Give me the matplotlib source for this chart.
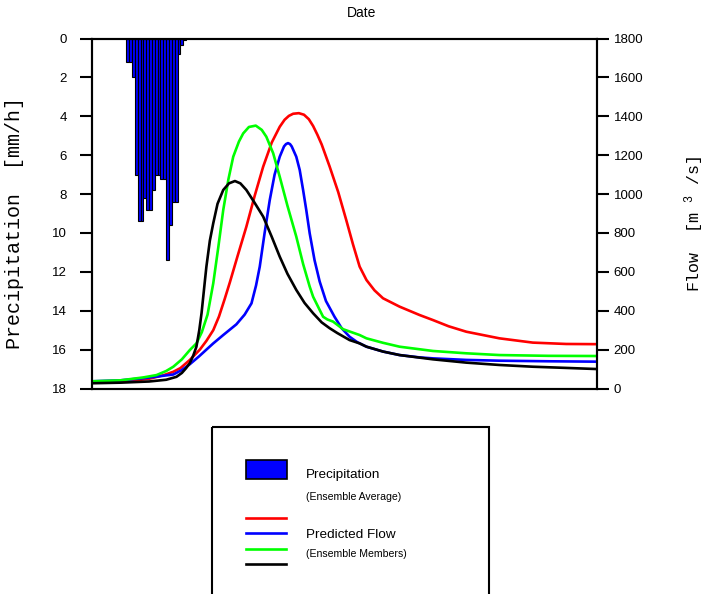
import numpy as np
import matplotlib
matplotlib.use('Agg')
import matplotlib.pyplot as plt
from matplotlib.patches import Rectangle
from matplotlib.lines import Line2D

plt.rcParams['font.family'] = ['Liberation Sans', 'DejaVu Sans']
plt.rcParams['mathtext.fontset'] = 'custom'
plt.rcParams['mathtext.rm'] = 'Liberation Mono'
plt.rcParams['mathtext.it'] = 'Liberation Mono'
plt.rcParams['mathtext.bf'] = 'Liberation Mono'

# =========================================================
# data (hours from start, mm/h, m3/s)
# =========================================================
precip_hours = list(range(12, 33))
precip_mm = [1.2, 1.2, 2.0, 7.0, 9.4, 9.4, 8.2, 8.8, 8.8, 7.8, 7.0,
             7.0, 7.2, 7.2, 11.4, 9.6, 8.4, 8.4, 0.8, 0.35, 0.1]

red_t = [0, 10, 20, 25, 28.5, 31, 34.3, 37.8, 40.1, 42.5, 44.5, 46.5, 48.3, 51,
         54.1, 57, 60.0, 63, 65.8, 67.5, 69, 70.5, 72.5, 74.3, 76, 77.5, 79,
         80.5, 83.3, 86.3, 89.1, 91.5, 93.8, 96.2, 99, 102.0, 107.8, 114.8,
         119.5, 125, 131.2, 142.8, 154.5, 166.2, 177]
red_q = [30, 33, 50, 68, 86, 105, 147, 200, 245, 300, 370, 460, 545, 680,
         832, 990, 1141, 1265, 1346, 1382, 1402, 1413, 1416, 1408, 1385, 1350, 1305,
         1255, 1141, 1010, 867, 740, 627, 558, 505, 464, 421, 378,
         352, 320, 292, 258, 236, 229, 228]

blue_t = [0, 10, 18, 22.6, 28.5, 31.5, 34.3, 37.5, 40.1, 42.5, 46.0, 50.6, 53.5,
          55.9, 57.5, 58.8, 60.5, 62.3, 64, 65.8, 67.3, 68, 68.7, 69.4, 70, 71.6,
          72.8, 74, 75.1, 76.3, 78, 79.8, 82, 85, 87.5, 90.3, 93, 96.2, 102,
          107.8, 114.8, 119.5, 131.2, 142.8, 160, 177]
blue_q = [37, 42, 53, 61, 72, 95, 125, 165, 200, 232, 275, 330, 380,
          438, 530, 627, 800, 969, 1100, 1192, 1245, 1257, 1262, 1257, 1245, 1192,
          1124, 1020, 918, 798, 660, 550, 450, 369, 310, 266, 238, 215, 190,
          172, 160, 155, 147, 143, 140, 138]

green_t = [0, 10, 18, 22.6, 26, 28.5, 31.5, 34.3, 36.6, 38.5, 40.5, 42.5, 44.3,
           46.0, 47.8, 49.5, 51.5, 53.0, 55, 57.4, 59.5, 61.1, 63.5, 65.8, 68.5,
           71.6, 74, 76.3, 77.5, 79.8, 81.0, 82.5, 84.5, 88, 93.8, 96.2, 102,
           107.8, 119.5, 131.2, 142.8, 160, 177]
green_q = [37, 42, 57, 69, 90, 112, 150, 198, 232, 290, 380, 541, 730,
           918, 1075, 1192, 1270, 1312, 1345, 1352, 1330, 1295, 1210, 1089, 940,
           781, 640, 524, 472, 404, 369, 355, 344, 305, 275, 258, 235,
           215, 193, 181, 172, 168, 167]

black_t = [0, 10, 20, 26, 29.6, 31.5, 33, 34.3, 35.5, 36.6, 37.6, 38.4, 39.6,
           40.1, 41.3, 42.5, 44, 46.0, 48, 50.1, 52, 54.1, 57, 60.0, 63, 65.8,
           68.5, 71.6, 74.5, 77.5, 80.5, 83.3, 86, 90.3, 93.8, 96.2, 102, 107.8,
           119.5, 131.2, 142.8, 154.5, 166, 177]
black_q = [27, 30, 36, 45, 60, 80, 105, 131, 170, 215, 300, 388, 558,
           627, 760, 850, 950, 1021, 1055, 1067, 1055, 1021, 955, 884, 780, 678,
           590, 507, 440, 387, 340, 310, 285, 249, 232, 215, 190, 172,
           150, 133, 121, 112, 106, 100]

precip_ticks = list(range(0, 19, 2))
flow_ticks = list(range(0, 1801, 200))

# =========================================================
# figure
# =========================================================
W, H = 706, 594
fig = plt.figure(figsize=(W / 100, H / 100), dpi=100)

ax = fig.add_axes([92 / W, 1 - 388.5 / H, 505 / W, 350 / H])
ax2 = ax.twinx()

# precipitation bars hanging from the top
ax.bar(precip_hours, precip_mm, width=1.0, align='edge',
       color='#0000FF', edgecolor='black', linewidth=0.8)
ax.set_xlim(0, 177)
ax.set_ylim(18, 0)
ax.set_yticks(precip_ticks)
ax.set_xticks([])

# flow lines
ax2.plot(red_t, red_q, color='#FF0000', linewidth=1.9)
ax2.plot(blue_t, blue_q, color='#0000FF', linewidth=1.9)
ax2.plot(green_t, green_q, color='#00FF00', linewidth=1.9)
ax2.plot(black_t, black_q, color='black', linewidth=1.9)
ax2.set_ylim(0, 1800)
ax2.set_yticks(flow_ticks)

for a in (ax, ax2):
    for s in a.spines.values():
        s.set_linewidth(1.5)
ax.tick_params(axis='y', direction='out', length=8.5, width=1.5,
               pad=9.5, labelsize=9.5)
ax2.tick_params(axis='y', direction='out', length=8.5, width=1.5,
                pad=3.5, labelsize=9.5)

ax.set_ylabel('Precipitation  [mm/h]', family='Liberation Mono', fontsize=14.4)
ax.yaxis.set_label_coords(-0.134, 0.474)
ax2.set_ylabel(r'Flow  [m $^{3}$ /s]', family='Liberation Mono', fontsize=12,
               rotation=90)
ax2.yaxis.set_label_coords(1.17, 0.47)

fig.text(362 / W, 1 - 13 / H, 'Date', ha='center', va='center', fontsize=10)

# =========================================================
# legend box (drawn in pixel coords)
# =========================================================
lax = fig.add_axes([0, 0, 1, 1])
lax.set_xlim(0, W)
lax.set_ylim(H, 0)
lax.axis('off')

lax.add_patch(Rectangle((212, 427), 277, 220, fill=False,
                        edgecolor='black', linewidth=1.5, clip_on=False))
lax.add_patch(Rectangle((246, 460), 41, 19, facecolor='#0000FF',
                        edgecolor='black', linewidth=1.2))
for yy, c in zip([517.5, 533, 548.5, 564], ['#FF0000', '#0000FF', '#00FF00', 'black']):
    lax.add_line(Line2D([246, 286], [yy, yy], color=c, linewidth=1.9))

lax.text(306, 478, 'Precipitation', fontsize=9.7, va='baseline')
lax.text(306, 499.5, '(Ensemble Average)', fontsize=7.6, va='baseline')
lax.text(306, 538, 'Predicted Flow', fontsize=9.7, va='baseline')
lax.text(306, 557, '(Ensemble Members)', fontsize=7.6, va='baseline')

fig.savefig('out.png', dpi=100)
